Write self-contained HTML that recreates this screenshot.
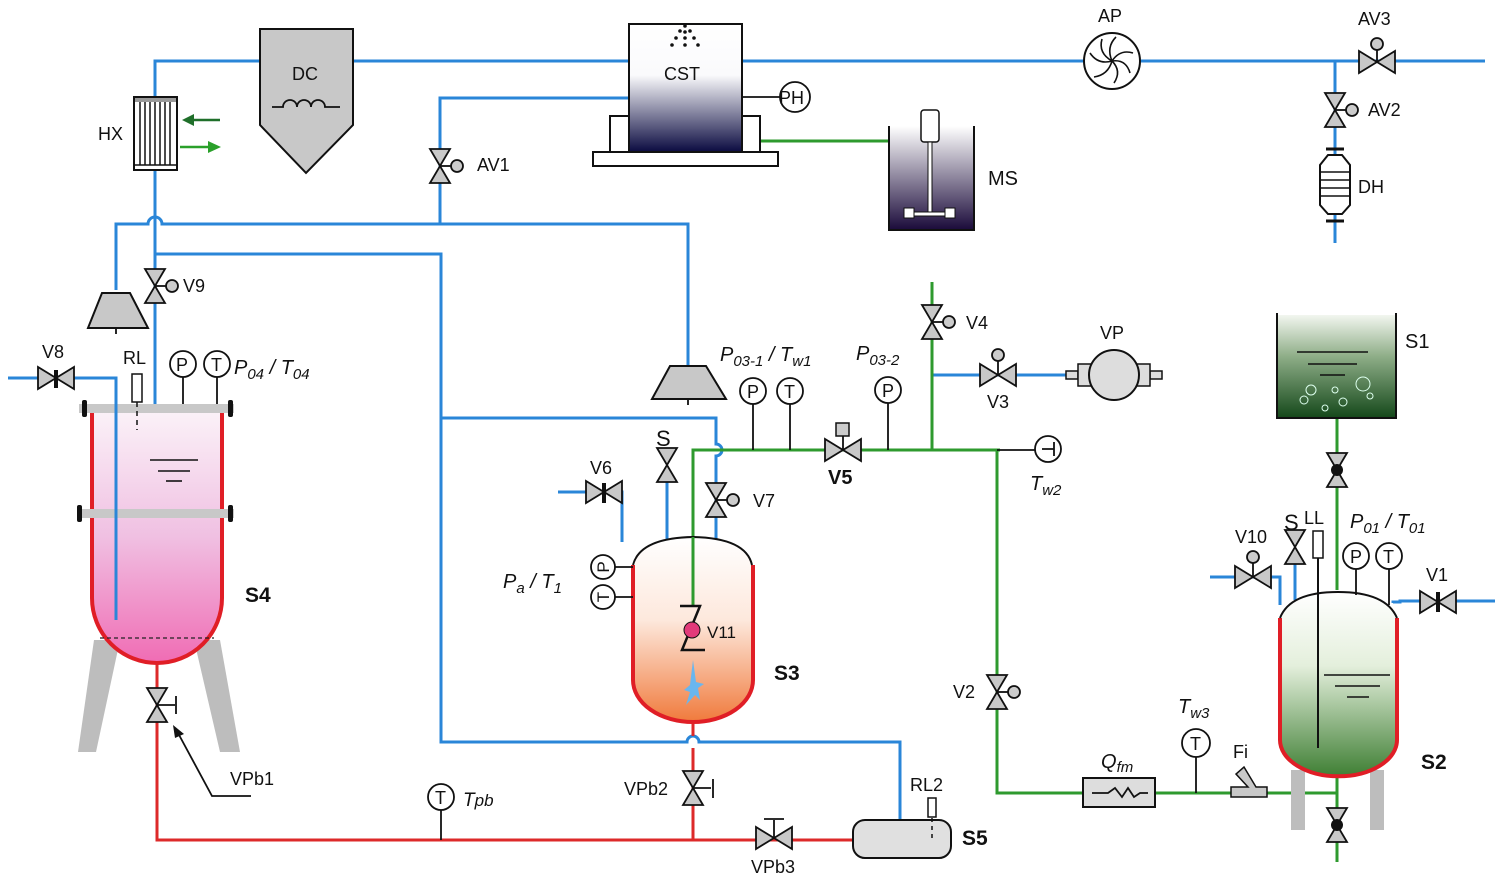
<!DOCTYPE html>
<html><head><meta charset="utf-8"><style>
html,body{margin:0;padding:0;background:#fff;}
svg{display:block;}
text{font-family:"Liberation Sans",sans-serif;fill:#111;}
.it{font-style:italic;}
.b{stroke:#2a86d8;stroke-width:3;fill:none;}
.g{stroke:#2e9a2e;stroke-width:3;fill:none;}
.r{stroke:#dd2a2a;stroke-width:3;fill:none;}
.k{stroke:#111;stroke-width:1.8;fill:none;}
.v{fill:#c8c8c8;stroke:#111;stroke-width:1.8;}
</style></head><body>
<svg width="1510" height="878" viewBox="0 0 1510 878" xmlns="http://www.w3.org/2000/svg">
<defs>
<linearGradient id="pink" x1="0" y1="0" x2="0" y2="1"><stop offset="0" stop-color="#fbf2f8"/><stop offset="0.5" stop-color="#f0c0e2"/><stop offset="1" stop-color="#f06cb4"/></linearGradient>
<linearGradient id="orng" x1="0" y1="0" x2="0" y2="1"><stop offset="0" stop-color="#fff"/><stop offset="0.45" stop-color="#fde8dc"/><stop offset="1" stop-color="#f07a3c"/></linearGradient>
<linearGradient id="grn" x1="0" y1="0" x2="0" y2="1"><stop offset="0" stop-color="#fff"/><stop offset="0.4" stop-color="#e4efdc"/><stop offset="1" stop-color="#3f7f34"/></linearGradient>
<linearGradient id="dgrn" x1="0" y1="0" x2="0" y2="1"><stop offset="0" stop-color="#f2f6ef"/><stop offset="0.4" stop-color="#8fae88"/><stop offset="1" stop-color="#14481a"/></linearGradient>
<linearGradient id="navy" x1="0" y1="0" x2="0" y2="1"><stop offset="0" stop-color="#fff"/><stop offset="0.4" stop-color="#fafafc"/><stop offset="1" stop-color="#0a0a40"/></linearGradient>
<linearGradient id="navy2" x1="0" y1="0" x2="0" y2="1"><stop offset="0" stop-color="#fff"/><stop offset="1" stop-color="#1a0a3a"/></linearGradient>
<g id="vv"><polygon class="v" points="-10,-17 10,-17 0,0"/><polygon class="v" points="-10,17 10,17 0,0"/></g>
<g id="hv"><polygon class="v" points="-18,-11 -18,11 0,0"/><polygon class="v" points="18,-11 18,11 0,0"/></g>
<g id="vva"><use href="#vv"/><line class="k" x1="0" y1="0" x2="11" y2="0"/><circle cx="17" cy="0" r="6" fill="#ccc" stroke="#111" stroke-width="1.8"/></g>
</defs>

<!-- ===== BLUE LINES ===== -->
<path class="b" d="M155,97 V61 H262"/>
<path class="b" d="M352,61 H630"/>
<path class="b" d="M741,61 H1485"/>
<path class="b" d="M440,224 V98 H630"/>
<path class="b" d="M155,170 V405"/>
<path class="b" d="M116,290 V224 H148 a7,7 0 0 1 14,0 H688 V365"/>
<path class="b" d="M155,254 H441 V742 H687 a6,6 0 0 1 12,0 H900 V820"/>
<path class="b" d="M441,418 H716 V444 a6,6 0 0 1 0,12 V543"/>
<path class="b" d="M8,378 H116 V620"/>
<path class="b" d="M558,492 H622 V542"/>
<path class="b" d="M667,480 V540"/>
<path class="b" d="M932,375 H1070"/>
<path class="b" d="M1335,61 V243"/>
<path class="b" d="M1210,577 H1280 V605"/>
<path class="b" d="M1295,560 V600"/>
<path class="b" d="M1393,603 V602 H1400 V601 H1495"/>

<!-- ===== GREEN LINES ===== -->
<path class="g" d="M693,640 V450 H1000"/>
<path class="g" d="M932,282 V450"/>
<path class="g" d="M997,450 V793 H1337"/>
<path class="g" d="M1337,418 V590"/>
<path class="g" d="M1337,775 V862"/>
<path class="g" d="M760,141 H888"/>

<!-- ===== RED LINES ===== -->
<path class="r" d="M157,663 V840 H855"/>
<path class="r" d="M693,722 V736"/>
<path class="r" d="M693,748 V840"/>

<!-- ===== HX ===== -->
<rect x="134" y="97" width="43" height="73" fill="#fff" stroke="#111" stroke-width="2"/>
<rect x="135" y="98" width="41" height="4" fill="#999"/>
<g stroke="#111" stroke-width="1.5"><line x1="140" y1="102" x2="140" y2="165"/><line x1="145" y1="102" x2="145" y2="165"/><line x1="150" y1="102" x2="150" y2="165"/><line x1="155" y1="102" x2="155" y2="165"/><line x1="160" y1="102" x2="160" y2="165"/><line x1="165" y1="102" x2="165" y2="165"/><line x1="170" y1="102" x2="170" y2="165"/><line x1="134" y1="165" x2="177" y2="165"/></g>
<line x1="220" y1="120" x2="190" y2="120" stroke="#1f6f2a" stroke-width="2.5"/><polygon points="182,120 194,114 194,126" fill="#1f6f2a"/>
<line x1="180" y1="147" x2="210" y2="147" stroke="#2aa02a" stroke-width="2.5"/><polygon points="221,147 208,141 208,153" fill="#2aa02a"/>
<text x="98" y="140" font-size="18">HX</text>

<!-- ===== DC ===== -->
<polygon points="260,29 353,29 353,125 306,173 260,125" fill="#c8c8c8" stroke="#111" stroke-width="2"/>
<text x="292" y="80" font-size="18">DC</text>
<path class="k" d="M272,107 H283 a7,7 0 0 1 14,0 a7,7 0 0 1 14,0 a7,7 0 0 1 14,0 H340"/>

<!-- ===== CST ===== -->
<rect x="593" y="152" width="185" height="14" fill="#fff" stroke="#111" stroke-width="2"/>
<rect x="610" y="116" width="20" height="36" fill="#fff" stroke="#111" stroke-width="2"/>
<rect x="741" y="116" width="19" height="36" fill="#fff" stroke="#111" stroke-width="2"/>
<rect x="629" y="24" width="113" height="128" fill="url(#navy)" stroke="#111" stroke-width="2"/>
<g fill="#111"><circle cx="685" cy="26" r="1.8"/><circle cx="685" cy="32" r="1.8"/><circle cx="685" cy="38" r="1.8"/><circle cx="685" cy="45" r="1.8"/><circle cx="680" cy="31" r="1.8"/><circle cx="676" cy="38" r="1.8"/><circle cx="672" cy="45" r="1.8"/><circle cx="690" cy="31" r="1.8"/><circle cx="694" cy="38" r="1.8"/><circle cx="698" cy="45" r="1.8"/></g>
<text x="664" y="80" font-size="18">CST</text>
<line class="k" x1="742" y1="97" x2="780" y2="97"/>
<circle cx="795" cy="97" r="15" fill="#fff" stroke="#111" stroke-width="1.8"/>
<text x="779" y="104" font-size="18">PH</text>

<!-- ===== MS ===== -->
<rect x="889" y="126" width="85" height="104" fill="url(#navy2)"/>
<path d="M889,126 V230 H974 V126" stroke="#111" stroke-width="2" fill="none"/>
<rect x="921" y="110" width="18" height="32" rx="3" fill="#fff" stroke="#111" stroke-width="1.5"/>
<rect x="928" y="142" width="4" height="70" fill="#fff" stroke="#111" stroke-width="1"/>
<rect x="908" y="212" width="46" height="4" fill="#fff" stroke="#111" stroke-width="1"/>
<rect x="904" y="208" width="10" height="10" fill="#fff" stroke="#111" stroke-width="1"/>
<rect x="945" y="208" width="10" height="10" fill="#fff" stroke="#111" stroke-width="1"/>
<text x="988" y="185" font-size="20">MS</text>

<!-- ===== AV1 ===== -->
<use href="#vva" x="440" y="166"/>
<text x="477" y="171" font-size="18">AV1</text>

<!-- ===== AP ===== -->
<circle cx="1112" cy="61" r="28" fill="#fff" stroke="#111" stroke-width="2"/>
<g stroke="#111" stroke-width="1.6" fill="none">
<path d="M1112,61 q-6,-14 4,-24"/><path d="M1112,61 q8,-12 21,-8"/><path d="M1112,61 q14,-2 18,12"/><path d="M1112,61 q10,10 2,22"/><path d="M1112,61 q-4,14 -18,16"/><path d="M1112,61 q-14,4 -22,-8"/><path d="M1112,61 q-14,-8 -10,-22"/></g>
<text x="1098" y="22" font-size="18">AP</text>

<!-- ===== AV3 / AV2 / DH ===== -->
<use href="#hv" x="1377" y="62"/>
<line class="k" x1="1377" y1="62" x2="1377" y2="50"/><circle cx="1377" cy="44" r="6" fill="#ccc" stroke="#111" stroke-width="1.8"/>
<text x="1358" y="25" font-size="18">AV3</text>
<use href="#vva" x="1335" y="110"/>
<text x="1368" y="116" font-size="18">AV2</text>
<line x1="1326" y1="149" x2="1344" y2="149" stroke="#111" stroke-width="3"/>
<line x1="1326" y1="221" x2="1344" y2="221" stroke="#111" stroke-width="3"/>
<polygon points="1320,165 1328,155 1342,155 1350,165 1350,205 1342,214 1328,214 1320,205" fill="#fff" stroke="#111" stroke-width="2"/>
<g stroke="#111" stroke-width="1.5"><line x1="1320" y1="172" x2="1350" y2="172"/><line x1="1320" y1="180" x2="1350" y2="180"/><line x1="1320" y1="188" x2="1350" y2="188"/><line x1="1320" y1="196" x2="1350" y2="196"/></g>
<text x="1358" y="193" font-size="18">DH</text>

<!-- ===== cyclones ===== -->
<polygon points="102,293 130,293 148,328 88,328" fill="#c8c8c8" stroke="#111" stroke-width="2"/>
<line class="k" x1="116" y1="328" x2="116" y2="334"/>
<polygon points="670,366 706,366 726,399 652,399" fill="#c8c8c8" stroke="#111" stroke-width="2"/>
<line class="k" x1="688" y1="399" x2="688" y2="405"/>

<!-- V9 -->
<use href="#vva" x="155" y="286"/>
<text x="183" y="292" font-size="18">V9</text>

<!-- V8 -->
<use href="#hv" x="56" y="378"/><line x1="56" y1="370" x2="56" y2="388" stroke="#111" stroke-width="4"/>
<text x="42" y="358" font-size="18">V8</text>

<!-- ===== S4 ===== -->
<polygon points="94,640 120,640 96,752 78,752" fill="#bdbdbd"/>
<polygon points="194,640 220,640 240,752 220,752" fill="#bdbdbd"/>
<path d="M92,410 V598 a65,65 0 0 0 130,0 V410 Z" fill="url(#pink)"/>
<path d="M92,410 V598 a65,65 0 0 0 130,0 V410" stroke="#e01e26" stroke-width="4" fill="none"/>
<line x1="100" y1="638" x2="214" y2="638" stroke="#222" stroke-width="1.2" stroke-dasharray="4,3"/>
<rect x="79" y="404" width="155" height="9" fill="#c8c8c8"/>
<rect x="79" y="509" width="155" height="9" fill="#c8c8c8"/>
<g fill="#111"><rect x="82" y="400" width="5" height="17" rx="2"/><rect x="228" y="400" width="5" height="17" rx="2"/><rect x="77" y="505" width="5" height="17" rx="2"/><rect x="228" y="505" width="5" height="17" rx="2"/></g>
<path class="b" d="M116,378 V620"/>
<g stroke="#111" stroke-width="1.6"><line x1="150" y1="460" x2="198" y2="460"/><line x1="158" y1="471" x2="190" y2="471"/><line x1="166" y1="481" x2="182" y2="481"/></g>
<rect x="132" y="374" width="10" height="28" fill="#fff" stroke="#111" stroke-width="1.5"/>
<line x1="137" y1="402" x2="137" y2="430" stroke="#111" stroke-width="1.5" stroke-dasharray="5,4"/>
<text x="123" y="364" font-size="18">RL</text>
<line class="k" x1="183" y1="377" x2="183" y2="404"/><circle cx="183" cy="364" r="13" fill="#fff" stroke="#111" stroke-width="1.8"/><text x="176" y="371" font-size="18">P</text>
<line class="k" x1="217" y1="377" x2="217" y2="404"/><circle cx="217" cy="364" r="13" fill="#fff" stroke="#111" stroke-width="1.8"/><text x="211" y="371" font-size="18">T</text>
<text x="234" y="374" font-size="20" class="it">P<tspan font-size="15" dy="5">04</tspan><tspan dy="-5"> / T</tspan><tspan font-size="15" dy="5">04</tspan></text>
<text x="245" y="602" font-size="21" font-weight="bold">S4</text>

<!-- VPb1 -->
<use href="#vv" x="157" y="705"/>
<line class="k" x1="157" y1="705" x2="175" y2="705"/><line class="k" x1="176" y1="696" x2="176" y2="714"/>
<path class="k" d="M251,796 H212 L178,733"/><polygon points="173,725 184,734 175,738" fill="#111"/>
<text x="230" y="785" font-size="18">VPb1</text>

<!-- Tpb -->
<line class="k" x1="441" y1="810" x2="441" y2="840"/><circle cx="441" cy="797" r="13" fill="#fff" stroke="#111" stroke-width="1.8"/><text x="435" y="804" font-size="18">T</text>
<text x="463" y="806" font-size="19" class="it">T<tspan font-size="17">pb</tspan></text>

<!-- VPb2 -->
<use href="#vv" x="693" y="788"/>
<line class="k" x1="693" y1="788" x2="711" y2="788"/><line class="k" x1="713" y1="779" x2="713" y2="798"/>
<text x="624" y="795" font-size="18">VPb2</text>

<!-- VPb3 -->
<use href="#hv" x="774" y="838"/>
<line class="k" x1="774" y1="838" x2="774" y2="820"/><line class="k" x1="764" y1="819" x2="784" y2="819"/>
<text x="751" y="873" font-size="18">VPb3</text>

<!-- S5 -->
<rect x="853" y="820" width="98" height="38" rx="12" fill="#e0e0e0" stroke="#111" stroke-width="2"/>
<rect x="928" y="798" width="8" height="19" fill="#fff" stroke="#111" stroke-width="1.5"/>
<line x1="932" y1="818" x2="932" y2="839" stroke="#111" stroke-width="1.5" stroke-dasharray="4,4"/>
<text x="910" y="791" font-size="18">RL2</text>
<text x="962" y="845" font-size="21" font-weight="bold">S5</text>

<!-- ===== S3 ===== -->
<path d="M633,565 Q640,538 693,537 Q746,538 752,565 V680 a60,42 0 0 1 -120,0 Z" fill="url(#orng)"/>
<path d="M633,565 V680 a60,42 0 0 0 120,0 V565" stroke="#e01e26" stroke-width="4" fill="none"/>
<path d="M633,565 Q640,538 693,537 Q746,538 752,565" stroke="#111" stroke-width="2" fill="none"/>
<path class="g" d="M693,537 V606"/>
<path d="M680,606 H700 L682,650 H705" stroke="#111" stroke-width="2.5" fill="none"/>
<circle cx="692" cy="630" r="8" fill="#e23a7a" stroke="#111" stroke-width="1"/>
<text x="707" y="638" font-size="17">V11</text>
<path d="M693,660 L690,685 L684,690 L690,692 L686,705 L695,695 L700,700 L698,688 L704,684 L696,682 Z" fill="#6ab6ee"/>
<text x="774" y="680" font-size="21" font-weight="bold">S3</text>
<line class="k" x1="633" y1="567" x2="615" y2="567"/><circle cx="603" cy="567" r="12" fill="#fff" stroke="#111" stroke-width="1.8"/>
<text x="603" y="573" font-size="17" text-anchor="middle" transform="rotate(-90 603 567)">P</text>
<line class="k" x1="633" y1="597" x2="615" y2="597"/><circle cx="603" cy="597" r="12" fill="#fff" stroke="#111" stroke-width="1.8"/>
<text x="603" y="603" font-size="17" text-anchor="middle" transform="rotate(-90 603 597)">T</text>
<text x="503" y="588" font-size="20" class="it">P<tspan font-size="15" dy="5">a</tspan><tspan dy="-5"> / T</tspan><tspan font-size="15" dy="5">1</tspan></text>

<!-- V6, S, V7 -->
<use href="#hv" x="604" y="492"/><line x1="604" y1="483" x2="604" y2="503" stroke="#111" stroke-width="4"/>
<text x="590" y="474" font-size="18">V6</text>
<use href="#vv" x="667" y="465"/>
<text x="656" y="446" font-size="22">S</text>
<use href="#vva" x="716" y="500"/>
<text x="753" y="507" font-size="18">V7</text>

<!-- P03-1 / Tw1 -->
<line class="k" x1="753" y1="403" x2="753" y2="450"/><circle cx="753" cy="391" r="13" fill="#fff" stroke="#111" stroke-width="1.8"/><text x="747" y="398" font-size="18">P</text>
<line class="k" x1="790" y1="403" x2="790" y2="450"/><circle cx="790" cy="391" r="13" fill="#fff" stroke="#111" stroke-width="1.8"/><text x="784" y="398" font-size="18">T</text>
<text x="720" y="361" font-size="20" class="it">P<tspan font-size="15" dy="5">03-1</tspan><tspan dy="-5"> / T</tspan><tspan font-size="15" dy="5">w1</tspan></text>
<line class="k" x1="888" y1="403" x2="888" y2="450"/><circle cx="888" cy="390" r="13" fill="#fff" stroke="#111" stroke-width="1.8"/><text x="882" y="397" font-size="18">P</text>
<text x="856" y="360" font-size="20" class="it">P<tspan font-size="15" dy="5">03-2</tspan></text>

<!-- V5 -->
<use href="#hv" x="843" y="450"/>
<line class="k" x1="843" y1="450" x2="843" y2="436"/><rect x="836" y="423" width="13" height="13" fill="#ccc" stroke="#111" stroke-width="1.5"/>
<text x="828" y="484" font-size="20" font-weight="bold">V5</text>

<!-- V4 / V3 / VP -->
<use href="#vva" x="932" y="322"/>
<text x="966" y="329" font-size="18">V4</text>
<use href="#hv" x="998" y="375"/>
<line class="k" x1="998" y1="375" x2="998" y2="361"/><circle cx="998" cy="355" r="6" fill="#ccc" stroke="#111" stroke-width="1.8"/>
<text x="987" y="408" font-size="18">V3</text>
<rect x="1066" y="371" width="12" height="8" fill="#ddd" stroke="#111" stroke-width="1.5"/>
<rect x="1150" y="371" width="12" height="8" fill="#ddd" stroke="#111" stroke-width="1.5"/>
<rect x="1078" y="364" width="72" height="22" fill="#ddd" stroke="#111" stroke-width="1.5"/>
<circle cx="1114" cy="375" r="25" fill="#ddd" stroke="#111" stroke-width="2"/>
<text x="1100" y="339" font-size="18">VP</text>

<!-- Tw2 -->
<line class="k" x1="997" y1="450" x2="1035" y2="450"/>
<circle cx="1048" cy="449" r="13" fill="#fff" stroke="#111" stroke-width="1.8"/>
<path class="k" d="M1042,449 H1054 M1054,442 V456"/>
<text x="1030" y="490" font-size="20" class="it">T<tspan font-size="15" dy="5">w2</tspan></text>

<!-- V2 -->
<use href="#vva" x="997" y="692"/>
<text x="953" y="698" font-size="18">V2</text>

<!-- Qfm -->
<rect x="1083" y="778" width="72" height="29" fill="#ddd" stroke="#111" stroke-width="2"/>
<path class="k" d="M1092,793 H1108 L1115,788 L1122,797 L1128,788 L1134,797 L1140,793 H1148"/>
<text x="1101" y="768" font-size="20" class="it">Q<tspan font-size="15" dy="4">fm</tspan></text>
<line class="k" x1="1196" y1="756" x2="1196" y2="793"/><circle cx="1196" cy="743" r="14" fill="#fff" stroke="#111" stroke-width="1.8"/><text x="1190" y="750" font-size="18">T</text>
<text x="1178" y="713" font-size="20" class="it">T<tspan font-size="15" dy="5">w3</tspan></text>
<polygon points="1231,787 1248,787 1236,774 1244,767 1256,787 1267,787 1267,797 1231,797" fill="#c8c8c8" stroke="#111" stroke-width="1.5"/>
<text x="1233" y="758" font-size="18">Fi</text>

<!-- ===== S1 ===== -->
<rect x="1277" y="315" width="119" height="103" fill="url(#dgrn)"/>
<path d="M1277,313 V418 H1396 V313" stroke="#111" stroke-width="2" fill="none"/>
<g stroke="#111" stroke-width="1.5"><line x1="1297" y1="352" x2="1368" y2="352"/><line x1="1308" y1="364" x2="1357" y2="364"/><line x1="1320" y1="375" x2="1345" y2="375"/></g>
<g stroke="#dfe" stroke-width="1" fill="none"><circle cx="1311" cy="390" r="5"/><circle cx="1363" cy="384" r="7"/><circle cx="1304" cy="400" r="4"/><circle cx="1335" cy="390" r="3"/><circle cx="1343" cy="402" r="4"/><circle cx="1370" cy="396" r="3"/><circle cx="1325" cy="408" r="3"/></g>
<text x="1405" y="348" font-size="20">S1</text>
<use href="#vv" x="1337" y="470"/><circle cx="1337" cy="470" r="6" fill="#111"/>

<!-- ===== S2 ===== -->
<rect x="1291" y="770" width="14" height="60" fill="#bdbdbd"/>
<rect x="1370" y="770" width="14" height="60" fill="#bdbdbd"/>
<path d="M1280,618 Q1290,592 1338,592 Q1386,592 1397,618 V740 a58,36 0 0 1 -117,0 Z" fill="url(#grn)"/>
<path d="M1280,618 V740 a58,36 0 0 0 117,0 V618" stroke="#e01e26" stroke-width="4" fill="none"/>
<path d="M1280,618 Q1290,592 1338,592 Q1386,592 1397,618" stroke="#111" stroke-width="2" fill="none"/>
<line x1="1318" y1="558" x2="1318" y2="748" stroke="#111" stroke-width="2"/>
<rect x="1313" y="531" width="10" height="27" fill="#fff" stroke="#111" stroke-width="1.5"/>
<g stroke="#111" stroke-width="1.5"><line x1="1324" y1="675" x2="1390" y2="675"/><line x1="1335" y1="686" x2="1380" y2="686"/><line x1="1347" y1="697" x2="1369" y2="697"/></g>
<line class="k" x1="1356" y1="568" x2="1356" y2="595"/><circle cx="1356" cy="556" r="13" fill="#fff" stroke="#111" stroke-width="1.8"/><text x="1350" y="563" font-size="18">P</text>
<line class="k" x1="1389" y1="568" x2="1389" y2="605"/><circle cx="1389" cy="556" r="13" fill="#fff" stroke="#111" stroke-width="1.8"/><text x="1383" y="563" font-size="18">T</text>
<text x="1350" y="528" font-size="20" class="it">P<tspan font-size="15" dy="5">01</tspan><tspan dy="-5"> / T</tspan><tspan font-size="15" dy="5">01</tspan></text>
<use href="#vv" x="1295" y="547"/>
<text x="1284" y="530" font-size="22">S</text>
<text x="1304" y="524" font-size="18">LL</text>
<use href="#hv" x="1253" y="577"/>
<line class="k" x1="1253" y1="577" x2="1253" y2="563"/><circle cx="1253" cy="557" r="6" fill="#ccc" stroke="#111" stroke-width="1.8"/>
<text x="1235" y="543" font-size="18">V10</text>
<use href="#hv" x="1438" y="602"/><line x1="1438" y1="592" x2="1438" y2="612" stroke="#111" stroke-width="4"/>
<text x="1426" y="581" font-size="18">V1</text>
<text x="1421" y="769" font-size="21" font-weight="bold">S2</text>
<use href="#vv" x="1337" y="825"/><circle cx="1337" cy="825" r="6" fill="#111"/>
</svg>
</body></html>
